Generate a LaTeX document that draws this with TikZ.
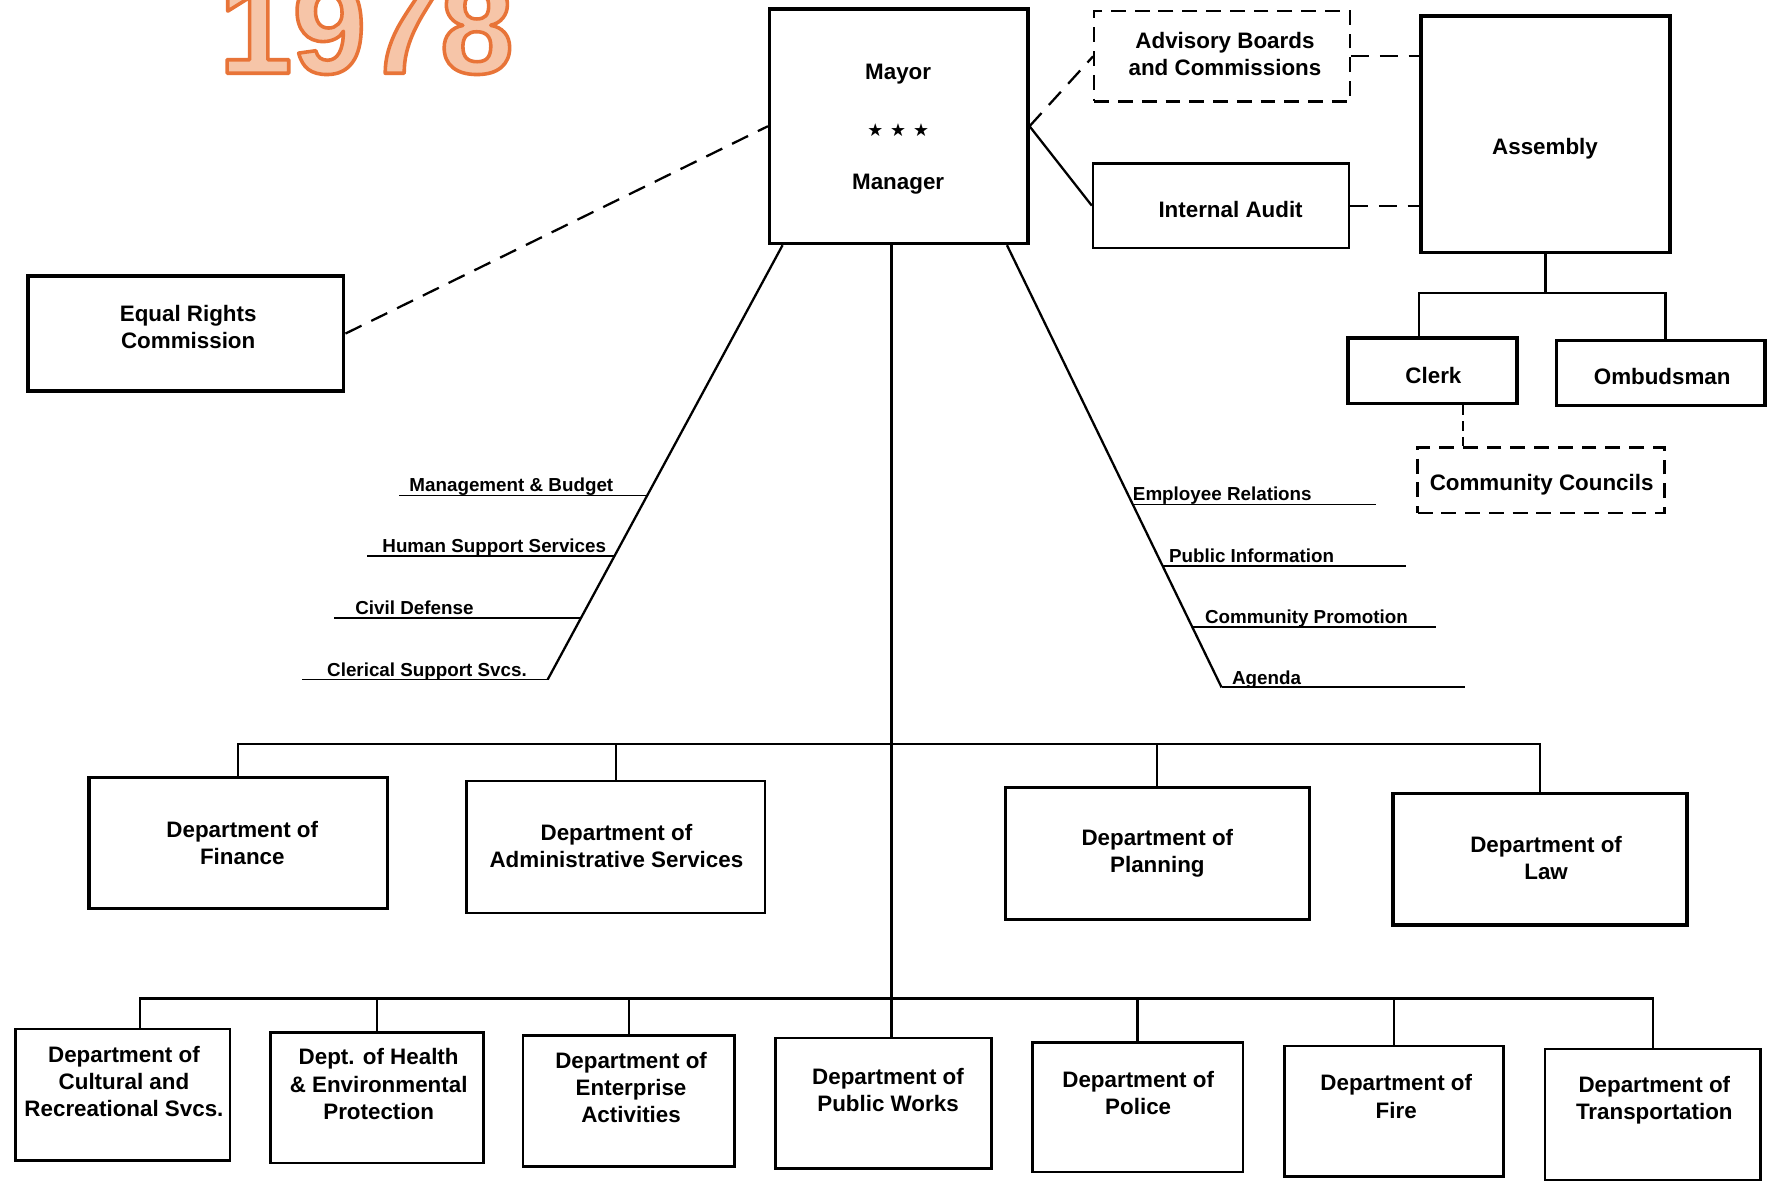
\documentclass[tikz,border=0pt]{standalone}
\usepackage{fontspec}
\setmainfont{Liberation Sans}
\newfontfamily\symfnt{DejaVu Sans}
\usetikzlibrary{fit,calc}
\definecolor{titlefill}{HTML}{F6C5A8}
\definecolor{titleline}{HTML}{E87438}
\newcommand{\bxfnt}{\bfseries\fontsize{11.3}{13.7}\selectfont}
\newcommand{\stfnt}{\bfseries\fontsize{9.5}{11}\selectfont}
\newcommand{\ttlfnt}{\bfseries\fontsize{67}{67}\selectfont}
\begin{document}
\begin{tikzpicture}[x=0.02cm, y=-0.02cm,
  box/.style={draw, line width=1.3pt, inner sep=0pt},
  thickbox/.style={box, line width=1.8pt},
  dbox/.style={box, line width=1.2pt, dash pattern=on 7.5pt off 4.5pt},
  txt/.style={font=\bxfnt, align=center, inner sep=0pt},
  conn/.style={line width=1.15pt},
  dconn/.style={line width=1.15pt, dash pattern=on 9pt off 5.5pt},
  sdconn/.style={line width=1.15pt, dash pattern=on 5pt off 3pt},
  sline/.style={line width=0.95pt},
  staff/.style={font=\stfnt, anchor=base west, inner sep=0pt},
  ttl/.style={font=\ttlfnt, anchor=base, inner sep=0pt},
]
\useasboundingbox (0,0) rectangle (1568,1049);
\fill[white] (0,0) rectangle (1568,1049);
\clip (0,0) rectangle (1568,1049);

% title (filled and outlined text)
\node[ttl, text=titlefill] (title) at (325,65) {\special{pdf:literal direct 2 Tr 1.8 w 1 j 0.910 0.455 0.220 RG}1978\special{pdf:literal direct 0 Tr}};

% top boxes
\node[thickbox, fit={(683,8) (912,216)}] (mayor) {};
\node[txt] (t-mayor) at (797,66) {Mayor};
\node[inner sep=0pt, font=\symfnt\fontsize{9}{9}\selectfont] (stars) at (797,115) {★\hspace{3.5pt}★\hspace{3.5pt}★};
\node[txt] (t-mgr) at (797,163) {Manager};

\node[dbox, fit={(971,10) (1198,90)}] (adv) {};
\node[txt] (t-adv) at (1087,48) {Advisory Boards\\and Commissions};
\node[box, fit={(970,145) (1197,220)}] (audit) {};
\node[txt] (t-audit) at (1092,186) {Internal Audit};
\node[thickbox, fit={(1261,14) (1482,224)}] (asm) {};
\node[txt] (t-asm) at (1371,132) {Assembly};

\node[thickbox, fit={(25,245) (305,347)}] (erc) {};
\node[txt] (t-erc) at (167,290) {Equal Rights\\Commission};

\node[thickbox, fit={(1196,300) (1346,358)}] (clerk) {};
\node[txt] (t-clerk) at (1272,333) {Clerk};
\node[thickbox, fit={(1381,302) (1566,360)}] (omb) {};
\node[txt] (t-omb) at (1475,334) {Ombudsman};
\node[dbox, fit={(1258,397) (1477,455)}] (cc) {};
\node[txt] (t-cc) at (1368,430) {Community Councils};

% departments, upper row
\node[thickbox, fit={(79,690) (344,806)}] (fin) {};
\node[txt] (t-fin) at (215,748) {Department of\\Finance};
\node[box, fit={(414,693) (679,810)}] (adm) {};
\node[txt] (t-adm) at (547,751) {Department of\\Administrative Services};
\node[box, fit={(892,699) (1162,816)}] (plan) {};
\node[txt] (t-plan) at (1027,757) {Department of\\Planning};
\node[thickbox, fit={(1236,704) (1497,821)}] (law) {};
\node[txt] (t-law) at (1372,761) {Department of\\Law};

% departments, lower row
\node[box, fit={(14,913) (204,1030)}] (cult) {};
\node[box, fit={(240,916) (429,1032)}] (hlth) {};
\node[box, fit={(464,919) (652,1035)}] (ent) {};
\node[box, fit={(688,921) (880,1037)}] (pw) {};
\node[box, fit={(916,925) (1103,1040)}] (pol) {};
\node[box, fit={(1140,928) (1334,1044)}] (fire) {};
\node[box, fit={(1371,931) (1562,1047)}] (trans) {};
\node[txt] (t-cult) at (110,960) {Department of\\Cultural and\\Recreational Svcs.};
\node[txt] (t-hlth) at (336,962) {Dept. of Health\\\& Environmental\\Protection};
\node[txt] (t-ent) at (560,965) {Department of\\Enterprise\\Activities};
\node[txt] (t-pw) at (788,967) {Department of\\Public Works};
\node[txt] (t-pol) at (1010,970) {Department of\\Police};
\node[txt] (t-fire) at (1239,973) {Department of\\Fire};
\node[txt] (t-trans) at (1468,976) {Department of\\Transportation};

% connectors around the mayor
\draw[dconn] (erc.east) -- (mayor.west);
\draw[dconn] (mayor.east) -- (adv.west);
\draw[conn] (mayor.east) -- (audit.west);
\draw[dconn] (adv.east) -- (adv.east -| asm.west);
\draw[dconn] (audit.east) -- (audit.east -| asm.west);

% assembly tree
\coordinate (cjl) at (1259,260);
\coordinate (cjr) at (1478,260);
\coordinate (ccx) at (1298,0);
\draw[conn] (asm.south) -- (asm.south |- cjl);
\draw[conn] (clerk.north -| cjl) -- (cjl) -- (cjr) -- (omb.north -| cjr);
\draw[sdconn] (clerk.south -| ccx) -- (cc.north -| ccx);

% main vertical and buses
\coordinate (vx) at (791,0);
\coordinate (ub) at (791,660);
\coordinate (lb) at (791,886);
\coordinate (cultx) at (124,0);
\draw[conn] (mayor.south -| vx) -- (pw.north -| vx);
\draw[conn] (fin.north) -- (fin.north |- ub) -- (law.north |- ub) -- (law.north);
\draw[conn] (adm.north) -- (adm.north |- ub);
\draw[conn] (plan.north) -- (plan.north |- ub);
\draw[conn] (cult.north -| cultx) -- (cultx |- lb) -- (trans.north |- lb) -- (trans.north);
\draw[conn] (hlth.north) -- (hlth.north |- lb);
\draw[conn] (ent.north) -- (ent.north |- lb);
\draw[conn] (pol.north) -- (pol.north |- lb);
\draw[conn] (fire.north) -- (fire.north |- lb);

% staff diagonals
\path (mayor.south west) ++(13,0) coordinate (ltop);
\path (mayor.south east) ++(-20,0) coordinate (rtop);
\coordinate (lbot) at (486,603);
\coordinate (rbot) at (1084,610);
\draw[conn] (ltop) -- (lbot);
\draw[conn] (rtop) -- (rbot);
\coordinate (l1) at ($(ltop)!0.5762!(lbot)$);
\coordinate (l2) at ($(ltop)!0.7158!(lbot)$);
\coordinate (l3) at ($(ltop)!0.8579!(lbot)$);
\coordinate (r1) at ($(rtop)!0.5863!(rbot)$);
\coordinate (r2) at ($(rtop)!0.7259!(rbot)$);
\coordinate (r3) at ($(rtop)!0.8629!(rbot)$);
\draw[sline] (l1) -- ++(-220,0);
\draw[sline] (l2) -- ++(-220,0);
\draw[sline] (l3) -- ++(-219,0);
\draw[sline] (lbot) -- ++(-218,0);
\draw[sline] (r1) -- ++(216,0);
\draw[sline] (r2) -- ++(216,0);
\draw[sline] (r3) -- ++(216,0);
\draw[sline] (rbot) -- ++(216,0);

\node[staff] (s-mb) at (363,436) {Management \& Budget};
\node[staff] (s-hs) at (339,490) {Human Support Services};
\node[staff] (s-cd) at (315,545) {Civil Defense};
\node[staff] (s-cs) at (290,600) {Clerical Support Svcs.};
\node[staff] (s-er) at (1005,444) {Employee Relations};
\node[staff] (s-pi) at (1037,499) {Public Information};
\node[staff] (s-cp) at (1069,553) {Community Promotion};
\node[staff] (s-ag) at (1093,607) {Agenda};
\end{tikzpicture}
\end{document}
